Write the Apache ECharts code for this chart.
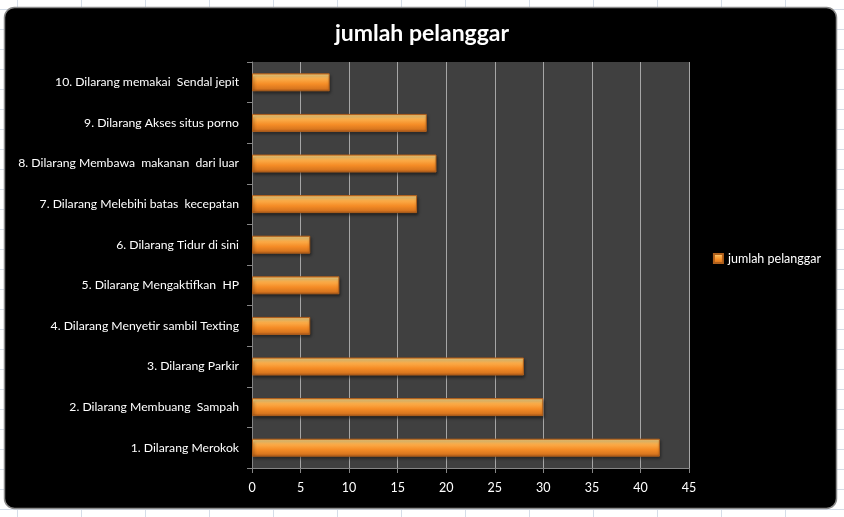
<!DOCTYPE html>
<html><head><meta charset="utf-8">
<script src="https://cdn.jsdelivr.net/npm/echarts@6/dist/echarts.min.js"></script>
<style>html,body{margin:0;padding:0;background:#fff}#c{width:844px;height:517px}</style>
</head><body><div id="c"></div>
<script>
var categories = ["1. Dilarang Merokok","2. Dilarang Membuang  Sampah","3. Dilarang Parkir","4. Dilarang Menyetir sambil Texting","5. Dilarang Mengaktifkan  HP","6. Dilarang Tidur di sini","7. Dilarang Melebihi batas  kecepatan","8. Dilarang Membawa  makanan  dari luar","9. Dilarang Akses situs porno","10. Dilarang memakai  Sendal jepit"];
var values = [42, 30, 28, 6, 9, 6, 17, 19, 18, 8];
var seriesName = "jumlah pelanggar";
var titleText = "jumlah pelanggar";

var chart = echarts.init(document.getElementById('c'), null, {renderer:'canvas'});
var gfx = [];
var gridColor = '#d5dde8';
for (var k = 0; k < 14; k++) {
  gfx.push({type:'line', z:-100, shape:{x1:17+64*k+0.5,y1:0,x2:17+64*k+0.5,y2:517}, style:{stroke:gridColor,lineWidth:1}});
}
for (var r = 0; r < 27; r++) {
  var y = 509 - 20*r + 0.5;
  gfx.push({type:'line', z:-100, shape:{x1:0,y1:y,x2:844,y2:y}, style:{stroke:gridColor,lineWidth:1}});
}
gfx.push({type:'rect', z:-50, shape:{x:4.5,y:7.5,width:832,height:501,r:10}, style:{fill:'#000',stroke:'#8a8a8a',lineWidth:1.5}});

var barGrad = new echarts.graphic.LinearGradient(0,0,0,1,[
  {offset:0,color:'#f59a3c'},
  {offset:0.12,color:'#ffd47c'},
  {offset:0.3,color:'#fcae4a'},
  {offset:0.6,color:'#f58c26'},
  {offset:0.85,color:'#d9771f'},
  {offset:1,color:'#a9561a'}
]);

chart.setOption({
  backgroundColor:'#ffffff',
  animation:false,
  graphic: gfx,
  title:{text:titleText,left:'center',top:17,textStyle:{color:'#fff',fontFamily:'Lato',fontWeight:'bold',fontSize:23}},
  legend:{right:18,top:'middle',orient:'vertical',itemWidth:9,itemHeight:9,icon:'rect',itemGap:6,
    textStyle:{color:'#fff',fontFamily:'Lato',fontSize:12.5},data:[seriesName]},
  grid:{left:252,right:155,top:62,bottom:49,show:true,backgroundColor:'#404040',borderWidth:0},
  xAxis:{type:'value',min:0,max:45,interval:5,
    axisLine:{show:true,lineStyle:{color:'#868686'}},
    axisTick:{show:true,length:5,lineStyle:{color:'#868686'}},
    axisLabel:{color:'#fff',fontFamily:'Lato',fontSize:12.5,margin:13},
    splitLine:{show:true,lineStyle:{color:'#a6a6a6',width:1}}},
  yAxis:{type:'category',data:categories,
    axisLine:{show:true,lineStyle:{color:'#868686'}},
    axisTick:{show:true,length:5,lineStyle:{color:'#868686'}},
    axisLabel:{color:'#fff',fontFamily:'Lato',fontSize:12.2,margin:13}},
  series:[{name:seriesName,type:'bar',data:values,barWidth:18,
    itemStyle:{color:barGrad,borderColor:'#b0601c',borderWidth:1,shadowColor:'rgba(0,0,0,0.5)',shadowBlur:3,shadowOffsetX:1,shadowOffsetY:2}}]
});
</script></body></html>
